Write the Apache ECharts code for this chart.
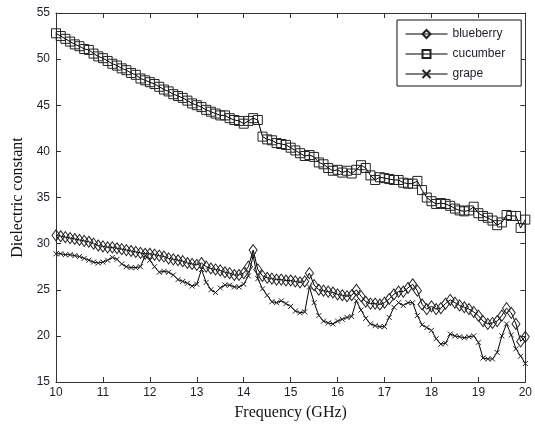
<!DOCTYPE html>
<html>
<head>
<meta charset="utf-8">
<script src="https://cdn.jsdelivr.net/npm/echarts@6/dist/echarts.min.js"></script>
<style>html,body{margin:0;padding:0;background:#fff}#c{width:535px;height:431px}</style>
</head>
<body>
<div id="c"></div>
<script>
// Frequencies (GHz), 0.1 GHz steps from 10 to 20
var freq = [];
for (var i = 0; i <= 100; i++) freq.push(+(10 + i * 0.1).toFixed(1));

var blueberry = [30.9,30.8,30.7,30.6,30.5,30.4,30.3,30.2,30.0,29.8,
  29.7,29.6,29.6,29.5,29.4,29.3,29.2,29.1,29.0,28.9,
  28.9,28.8,28.7,28.6,28.4,28.3,28.2,28.1,27.9,27.8,
  27.7,27.9,27.5,27.3,27.2,27.1,26.9,26.8,26.6,26.6,
  26.8,27.5,29.3,27.2,26.5,26.3,26.2,26.1,26.1,26.0,
  26.0,25.9,25.8,25.9,26.8,25.5,25.0,24.9,24.8,24.7,
  24.5,24.4,24.3,24.4,25.0,24.3,23.7,23.5,23.5,23.4,
  23.6,24.0,24.5,24.8,24.8,25.2,25.6,24.9,23.4,22.9,
  23.2,22.9,23.0,23.5,23.9,23.6,23.3,23.1,22.9,22.6,
  22.2,21.6,21.3,21.4,21.6,22.2,23.0,22.5,21.3,19.4,
  19.9];

var cucumber = [52.8,52.5,52.2,51.9,51.6,51.4,51.1,51.0,50.6,50.3,
  50.1,49.8,49.5,49.3,49.0,48.8,48.5,48.3,47.9,47.7,
  47.5,47.3,47.0,46.7,46.5,46.2,46.0,45.8,45.5,45.2,
  45.0,44.8,44.5,44.3,44.1,43.9,43.9,43.6,43.4,43.3,
  43.0,43.3,43.6,43.4,41.6,41.3,41.2,40.9,40.8,40.7,
  40.4,40.1,39.8,39.5,39.6,39.4,38.8,38.6,38.2,37.9,
  38.0,37.7,37.9,37.6,38.0,38.5,38.2,37.4,36.9,37.2,
  37.1,37.0,36.9,36.9,36.6,36.5,36.5,36.8,35.8,35.0,
  34.6,34.3,34.4,34.3,34.1,33.8,33.6,33.5,33.6,34.0,
  33.3,33.0,32.8,32.5,32.0,32.3,33.1,33.0,33.0,31.7,
  32.6];

var grape = [28.9,28.9,28.8,28.8,28.7,28.6,28.4,28.2,28.0,27.9,
  28.0,28.2,28.5,28.3,27.8,27.5,27.4,27.4,27.5,28.7,
  28.2,27.5,26.9,27.0,26.9,26.6,26.1,25.9,25.7,25.4,
  25.6,27.2,25.8,25.0,24.7,25.2,25.5,25.5,25.3,25.3,
  25.6,26.5,28.7,26.2,25.1,24.4,23.7,23.6,23.8,23.5,
  23.2,22.7,22.5,22.6,25.3,23.6,22.2,21.6,21.4,21.3,
  21.6,21.8,22.0,22.1,23.8,22.8,21.9,21.3,21.1,21.0,
  21.0,22.0,23.1,23.6,23.3,23.6,23.6,22.2,21.2,20.9,
  20.6,19.7,19.1,19.2,20.2,20.0,19.9,19.8,19.9,20.0,
  19.3,17.6,17.5,17.5,18.2,20.0,21.3,20.1,18.6,17.8,
  17.0];

var seriesNames = ['blueberry', 'cucumber', 'grape'];
var xTicks = [10, 11, 12, 13, 14, 15, 16, 17, 18, 19, 20];
var yTicks = [15, 20, 25, 30, 35, 40, 45, 50, 55];

function pairs(arr) { return arr.map(function (v, i) { return [freq[i], v]; }); }

var chart = echarts.init(document.getElementById('c'), null, { renderer: 'canvas' });
var axisText = { color: '#1e1e28', fontFamily: 'Liberation Sans, Arial, sans-serif', fontSize: 12 };
var lineC = '#333';

function mkX(show) {
  return {
    type: 'value', min: 10, max: 20, interval: 1,
    position: show ? 'bottom' : 'top',
    axisLine: { show: true, onZero: false, lineStyle: { color: lineC, width: 1 } },
    axisTick: { show: true, inside: true, length: 5, lineStyle: { color: lineC } },
    axisLabel: Object.assign({ show: show, margin: 5 }, axisText),
    splitLine: { show: false },
    name: show ? 'Frequency (GHz)' : '',
    nameLocation: 'middle', nameGap: 23,
    nameTextStyle: { fontFamily: 'Liberation Serif, Times New Roman, serif', fontSize: 16, color: '#111' }
  };
}
function mkY(show) {
  return {
    type: 'value', min: 15, max: 55, interval: 5,
    position: show ? 'left' : 'right',
    axisLine: { show: true, onZero: false, lineStyle: { color: lineC, width: 1 } },
    axisTick: { show: true, inside: true, length: 5, lineStyle: { color: lineC } },
    axisLabel: Object.assign({ show: show, margin: 6 }, axisText),
    splitLine: { show: false },
    name: show ? 'Dielectric constant' : '',
    nameLocation: 'middle', nameGap: 28,
    nameTextStyle: { fontFamily: 'Liberation Serif, Times New Roman, serif', fontSize: 16, color: '#111' }
  };
}

var crossPath = 'path://M0,0L10,10M10,0L0,10';

var option = {
  animation: false,
  backgroundColor: '#fff',
  grid: { left: 56, right: 8, top: 13, bottom: 49, containLabel: false },
  xAxis: [mkX(true), mkX(false)],
  yAxis: [mkY(true), mkY(false)],
  legend: {
    orient: 'vertical',
    left: 397, top: 20,
    backgroundColor: '#fff',
    borderColor: '#111', borderWidth: 1,
    padding: [8, 16, 6, 8],
    itemWidth: 42, itemHeight: 10, itemGap: 8,
    lineStyle: { width: 1 },
    textStyle: { fontFamily: 'Liberation Sans, Arial, sans-serif', fontSize: 12, color: '#1e1e28' },
    data: seriesNames
  },
  series: [
    {
      name: seriesNames[0], type: 'line', xAxisIndex: 0, yAxisIndex: 0,
      data: pairs(blueberry),
      symbol: 'diamond', symbolSize: [8, 11],
      itemStyle: { color: 'rgba(255,255,255,0)', borderColor: '#222', borderWidth: 1 },
      lineStyle: { color: '#000', width: 1 }
    },
    {
      name: seriesNames[1], type: 'line', xAxisIndex: 0, yAxisIndex: 0,
      data: pairs(cucumber),
      symbol: 'rect', symbolSize: 9,
      itemStyle: { color: 'rgba(255,255,255,0)', borderColor: '#222', borderWidth: 1 },
      lineStyle: { color: '#000', width: 1 }
    },
    {
      name: seriesNames[2], type: 'line', xAxisIndex: 0, yAxisIndex: 0,
      data: pairs(grape),
      symbol: crossPath, symbolSize: 5,
      itemStyle: { color: 'rgba(255,255,255,0)', borderColor: '#222', borderWidth: 1 },
      lineStyle: { color: '#000', width: 1 }
    }
  ]
};
chart.setOption(option);
</script>
</body>
</html>
